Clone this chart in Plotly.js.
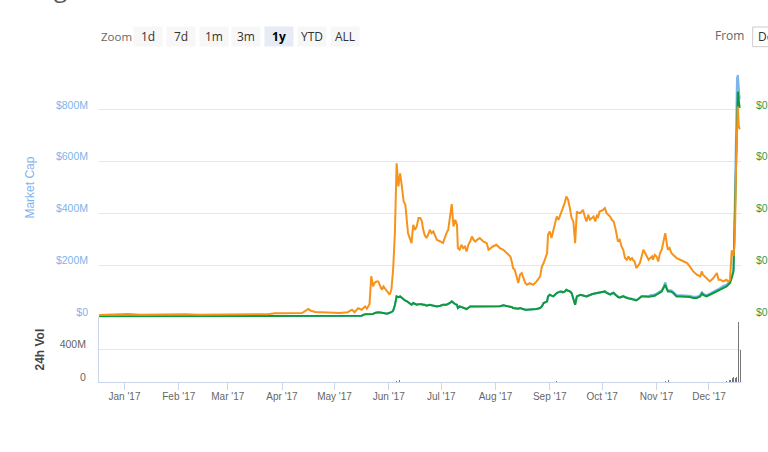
<!DOCTYPE html>
<html><head><meta charset="utf-8">
<script src="https://cdn.plot.ly/plotly-3.0.1.min.js"></script>
<style>html,body{margin:0;padding:0;background:#fff;overflow:hidden;}#chart{width:768px;height:452px;}</style>
</head><body><div id="chart"></div>
<script>
const dates = [
'2016-12-17 12:00','2016-12-23 12:00','2017-01-03','2017-01-10','2017-01-24','2017-01-30','2017-02-04 12:00','2017-02-13','2017-03-02 12:00','2017-03-13 12:00',
'2017-03-24','2017-03-28','2017-04-05 12:00','2017-04-12 12:00','2017-04-16','2017-04-17 12:00','2017-04-20','2017-04-28 12:00','2017-05-04','2017-05-08 12:00',
'2017-05-11','2017-05-12 12:00','2017-05-14 12:00','2017-05-16 12:00','2017-05-18 12:00','2017-05-19 12:00','2017-05-21','2017-05-22','2017-05-23','2017-05-24',
'2017-05-25','2017-05-26','2017-05-28','2017-05-29','2017-05-31','2017-06-01 12:00','2017-06-02 12:00','2017-06-03 12:00','2017-06-04 12:00','2017-06-05 12:00',
'2017-06-06 12:00','2017-06-07 12:00','2017-06-08 12:00','2017-06-09 12:00','2017-06-10 12:00','2017-06-11 12:00','2017-06-12','2017-06-13','2017-06-14','2017-06-15',
'2017-06-16','2017-06-17','2017-06-18','2017-06-19','2017-06-20','2017-06-20 12:00','2017-06-21 12:00','2017-06-22 12:00','2017-06-23 12:00','2017-06-24 12:00',
'2017-06-25 12:00','2017-06-26 12:00','2017-06-28 12:00','2017-06-30 12:00','2017-07-02','2017-07-04','2017-07-05','2017-07-06','2017-07-07','2017-07-08',
'2017-07-09','2017-07-10','2017-07-10 12:00','2017-07-11 12:00','2017-07-12 12:00','2017-07-13 12:00','2017-07-14 12:00','2017-07-15 12:00','2017-07-16 12:00','2017-07-17 12:00',
'2017-07-18 12:00','2017-07-19 12:00','2017-07-20 12:00','2017-07-21 12:00','2017-07-23','2017-07-25','2017-07-27','2017-07-28','2017-07-29','2017-07-30 12:00',
'2017-08-01 12:00','2017-08-03 12:00','2017-08-05 12:00','2017-08-07 12:00','2017-08-09 12:00','2017-08-10 12:00','2017-08-11','2017-08-12','2017-08-13','2017-08-14',
'2017-08-15','2017-08-16','2017-08-17','2017-08-18','2017-08-19','2017-08-20 12:00','2017-08-22 12:00','2017-08-24 12:00','2017-08-26 12:00','2017-08-27 12:00',
'2017-08-28 12:00','2017-08-30 12:00','2017-08-31','2017-09-01','2017-09-02','2017-09-03','2017-09-05','2017-09-06','2017-09-07','2017-09-08',
'2017-09-08 12:00','2017-09-09 12:00','2017-09-10 12:00','2017-09-11 12:00','2017-09-12 12:00','2017-09-13 12:00','2017-09-14 12:00','2017-09-15 12:00','2017-09-16 12:00','2017-09-17 12:00',
'2017-09-18 12:00','2017-09-20','2017-09-21','2017-09-22','2017-09-23','2017-09-24','2017-09-25','2017-09-26','2017-09-27','2017-09-28',
'2017-09-28 12:00','2017-09-29 12:00','2017-10-01 12:00','2017-10-02 12:00','2017-10-03 12:00','2017-10-04 12:00','2017-10-05 12:00','2017-10-06 12:00','2017-10-07 12:00','2017-10-08 12:00',
'2017-10-09 12:00','2017-10-10','2017-10-11','2017-10-12','2017-10-13','2017-10-14','2017-10-15','2017-10-16','2017-10-17','2017-10-18',
'2017-10-18 12:00','2017-10-19 12:00','2017-10-20 12:00','2017-10-21 12:00','2017-10-22 12:00','2017-10-23 12:00','2017-10-24 12:00','2017-10-25 12:00','2017-10-26 12:00','2017-10-27 12:00',
'2017-10-28 12:00','2017-10-29 12:00','2017-10-30','2017-10-31','2017-11-01','2017-11-02','2017-11-03','2017-11-04','2017-11-05','2017-11-06',
'2017-11-07','2017-11-07 12:00','2017-11-08 12:00','2017-11-09 12:00','2017-11-10 12:00','2017-11-12 12:00','2017-11-14 12:00','2017-11-16 12:00','2017-11-18 12:00','2017-11-20',
'2017-11-22','2017-11-24','2017-11-26','2017-11-27','2017-11-27 12:00','2017-11-29 12:00','2017-12-01 12:00','2017-12-03 12:00','2017-12-05 12:00','2017-12-06 12:00',
'2017-12-07 12:00','2017-12-09','2017-12-11','2017-12-12','2017-12-13','2017-12-14','2017-12-15','2017-12-15 12:00','2017-12-16','2017-12-16 12:00',
'2017-12-17','2017-12-17 12:00','2017-12-18','2017-12-18 12:00'
];
// Price in BTC (satoshi)
const priceBtcSat = [
2.3,2.5,3.2,2.5,3.0,3.2,3.0,2.5,2.5,2.5,
3.0,4.0,4.0,4.2,8.2,6.5,5.2,5.0,4.2,5.0,
7.5,5.0,9.0,7.5,10.8,8.5,13.0,41.0,31.0,34.5,
35.8,35.8,27.5,30.8,25.8,22.5,27.5,47.5,84.0,154.0,
131,144,131,116,112.5,87.5,84.2,79.2,74.2,92.5,
87.5,90.8,99.2,99.2,95.8,89.2,82.5,79.2,82.5,87.5,
84.2,85.8,77.5,75.8,74.2,84.2,87.5,100.8,113.2,90.8,
97.5,92.5,69.2,67.5,72.5,69.2,70.8,65.8,72.5,75.8,
80.8,77.5,75.8,77.5,79.2,75.8,74.2,67.5,69.2,70.8,
72.5,69.2,67.5,64.2,60.8,54.2,49.2,47.5,39.2,34.2,
42.5,44.2,39.2,34.2,32.5,34.2,32.5,35.8,40.8,50.8,
54.2,64.2,82.5,85.8,79.2,85.8,100.8,97.5,102.5,105.8,
109.2,114.2,120.8,117.5,109.2,99.2,95.8,74.2,105.8,104.2,
104.2,107.5,100.8,95.8,102.5,97.5,99.2,100.8,95.8,102.5,
99.2,105.8,107.5,109.2,104.2,102.5,100.8,97.5,95.8,89.2,
80.8,75.8,77.5,70.8,67.5,59.2,57.5,60.8,57.5,59.2,
57.5,55.8,49.2,52.5,54.2,60.8,67.5,64.2,60.8,57.5,
59.2,60.8,57.5,62.5,60.8,55.8,64.2,67.5,75.8,84.2,
72.5,67.5,69.2,64.2,62.5,59.2,57.5,55.8,54.2,50.8,
45.8,42.5,40.8,45.8,42.5,39.2,35.8,39.2,44.2,37.5,
37.5,35.8,37.5,35.8,37.5,67.0,61.0,71.0,97.5,157.5,
197.5,211,192.5,188
];
// Market cap (million USD)
const marketCapM = [
3.1,3.1,3.1,3.1,3.1,3.1,3.1,3.1,3.1,3.1,
3.1,3.9,4.6,5.0,5.4,5.4,5.4,5.4,5.4,5.8,
5.8,5.8,5.8,5.8,11.6,11.6,11.6,13.5,12.3,16.2,
17.3,19.3,17.3,16.2,13.5,17.3,19.3,25.1,46.2,80.2,
77.1,80.2,74.0,67.4,63.6,60.9,57.8,54.7,48.2,54.7,
52.0,48.2,50.1,50.9,50.1,48.2,48.2,44.3,46.2,48.2,
46.2,44.3,41.6,44.3,48.2,48.2,50.1,54.7,60.9,54.7,
50.1,48.2,35.5,41.6,38.5,35.5,33.9,31.6,36.6,41.6,
41.6,41.6,41.6,41.6,41.6,41.6,41.6,41.6,41.6,41.6,
41.6,42.4,46.2,44.3,41.6,38.5,35.5,34.7,32.8,32.8,
35.5,32.8,28.9,28.9,28.9,28.9,28.9,31.6,35.5,41.6,
54.7,60.9,80.2,86.7,82.9,80.2,93.3,96.4,99.4,98.3,
95.6,98.3,106.0,102.1,99.4,93.3,74.0,48.2,80.2,82.9,
86.7,84.0,81.7,80.2,82.9,86.7,88.6,90.6,91.7,93.3,
94.4,95.6,99.4,99.4,95.2,92.5,88.6,92.5,95.2,88.6,
82.1,79.7,77.1,79.0,82.1,79.0,75.9,74.4,73.2,71.3,
69.3,68.2,66.6,71.3,75.9,82.1,82.1,80.9,79.7,80.9,
84.8,84.8,84.8,87.5,91.3,95.2,97.9,104.0,117.1,134.9,
110.6,104.0,104.0,102.9,97.9,84.8,84.8,84.8,84.8,82.4,
78.6,78.6,84.8,97.9,91.3,84.8,91.3,97.9,104.0,108.7,
112.9,119.4,125.6,132.2,138.7,158.0,183.4,349.9,555.0,766.9,
921.1,934.6,867.2,840.2
];
// Price (USD)
const priceUsd = [
0.000031,0.000031,0.000031,0.000031,0.000031,0.000031,0.000031,0.000031,0.000031,0.000031,
0.000031,0.000039,0.000046,0.00005,0.000054,0.000054,0.000054,0.000054,0.000054,0.000058,
0.000058,0.000058,0.000058,0.000058,0.000116,0.000116,0.000116,0.000135,0.000123,0.000162,
0.000173,0.000193,0.000173,0.000162,0.000135,0.000173,0.000193,0.000251,0.000462,0.000802,
0.000771,0.000802,0.00074,0.000674,0.000636,0.000609,0.000578,0.000547,0.000482,0.000547,
0.00052,0.000482,0.000501,0.000509,0.000501,0.000482,0.000482,0.000443,0.000462,0.000482,
0.000462,0.000443,0.000416,0.000443,0.000482,0.000482,0.000501,0.000547,0.000609,0.000547,
0.000501,0.000482,0.000355,0.000416,0.000385,0.000355,0.000339,0.000316,0.000366,0.000416,
0.000416,0.000416,0.000416,0.000416,0.000416,0.000416,0.000416,0.000416,0.000416,0.000416,
0.000416,0.000424,0.000462,0.000443,0.000416,0.000385,0.000355,0.000347,0.000328,0.000328,
0.000355,0.000328,0.000289,0.000289,0.000289,0.000289,0.000289,0.000316,0.000355,0.000416,
0.000547,0.000609,0.000802,0.000867,0.000829,0.000802,0.000933,0.000964,0.000994,0.000983,
0.000956,0.000983,0.00106,0.001021,0.000994,0.000933,0.00074,0.000482,0.000802,0.000829,
0.000867,0.00084,0.000817,0.000802,0.000829,0.000867,0.000886,0.000906,0.000917,0.000933,
0.000944,0.000956,0.000994,0.000994,0.000933,0.000906,0.000867,0.000906,0.000933,0.000867,
0.000802,0.000778,0.000752,0.000771,0.000802,0.000771,0.00074,0.000725,0.000713,0.000694,
0.000674,0.000663,0.000647,0.000694,0.00074,0.000802,0.000802,0.00079,0.000778,0.00079,
0.000802,0.000802,0.000802,0.000829,0.000867,0.000906,0.000933,0.000994,0.001125,0.001253,
0.00106,0.000994,0.000994,0.000983,0.000933,0.000802,0.000802,0.000802,0.000802,0.000778,
0.00074,0.00074,0.000802,0.000933,0.000867,0.000802,0.000867,0.000933,0.000994,0.001041,
0.00106,0.001125,0.001187,0.001253,0.001318,0.001511,0.001765,0.003114,0.004779,0.006706,
0.008248,0.008702,0.008382,0.008074
];
const volDates = ['2017-01-15','2017-02-15','2017-03-15','2017-04-16','2017-05-22','2017-06-05 12:00','2017-06-07','2017-07-07','2017-08-15','2017-09-05','2017-10-05','2017-11-06','2017-11-08','2017-12-11','2017-12-13','2017-12-14 06:00','2017-12-15 06:00','2017-12-16 06:00','2017-12-16 18:00','2017-12-17 18:00','2017-12-18 18:00'];
const volumeM = [0.4,0.3,0.4,1.2,3,12,25,6,3,8,4,12,25,18,22,45,60,55,65,737,400];

const monthTicks = ['2017-01-01','2017-02-01','2017-03-01','2017-04-01','2017-05-01','2017-06-01','2017-07-01','2017-08-01','2017-09-01','2017-10-01','2017-11-01','2017-12-01'];
const monthLabels = ["Jan '17","Feb '17","Mar '17","Apr '17","May '17","Jun '17","Jul '17","Aug '17","Sep '17","Oct '17","Nov '17","Dec '17"];
const capTicks = [0,200,400,600,800,1000];
const capLabels = ['$0','$200M','$400M','$600M','$800M',''];
const priceTicks = [0,0.002,0.004,0.006,0.008];
const priceLabels = ['$0.000','$0.002','$0.004','$0.006','$0.008'];
const volTicks = [0,400,800];
const volLabels = ['0','400M',''];
const zoomButtons = ['1d','7d','1m','3m','1y','YTD','ALL'];
const selectedButton = '1y';

const F = 'Liberation Sans, Arial, sans-serif';
const UI = 'Open Sans, Liberation Sans, sans-serif';

const traces = [
  {type:'bar', x:volDates, y:volumeM, xaxis:'x', yaxis:'y4', width:0.6*86400000,
   marker:{color:'#777', line:{width:0}}, hoverinfo:'skip'},
  {type:'scatter', mode:'lines', x:dates, y:marketCapM, xaxis:'x', yaxis:'y',
   line:{color:'#7cb5ec', width:2}, hoverinfo:'skip'},
  {type:'scatter', mode:'lines', x:dates, y:priceUsd, xaxis:'x', yaxis:'y2',
   line:{color:'#0d9a3c', width:2}, hoverinfo:'skip'},
  {type:'scatter', mode:'lines', x:dates, y:priceBtcSat, xaxis:'x', yaxis:'y3',
   line:{color:'#f7931a', width:2}, hoverinfo:'skip'}
];

// pixel -> paper helpers for UI elements (plot area: l=99, w=642, t=58, h=324)
const px = p => (p - 99) / 642;
const py = p => (382 - p) / 324;
const btnCenters = [148, 181, 213.5, 246, 279.3, 312, 345];

const annotations = [
  {xref:'paper', yref:'paper', x:px(99), y:py(36.5), xanchor:'left', yanchor:'middle', showarrow:false,
   text:'Zoom', font:{family:UI, size:11.5, color:'#666'}},
  {xref:'paper', yref:'paper', x:px(746), y:py(35.5), xanchor:'right', yanchor:'middle', showarrow:false,
   text:'From', font:{family:UI, size:12, color:'#666'}},
  {xref:'paper', yref:'paper', x:px(756), y:py(36.5), xanchor:'left', yanchor:'middle', showarrow:false,
   text:'Dec 18, 2016', font:{family:UI, size:12, color:'#333'}},
  {xref:'paper', yref:'paper', x:px(52), y:py(6), xanchor:'left', yanchor:'bottom', showarrow:false,
   text:'g', font:{family:UI, size:24, color:'#555'}}
];
zoomButtons.forEach((b, i) => {
  const sel = b === selectedButton;
  annotations.push({xref:'paper', yref:'paper', x:px(btnCenters[i]), y:py(36.7), xanchor:'center', yanchor:'middle',
    showarrow:false, text: sel ? '<b>'+b+'</b>' : b, width:28, height:19, borderpad:0,
    bgcolor: sel ? '#e6ebf5' : '#f7f7f7', font:{family:UI, size:12, color: sel ? '#000' : '#333'}});
});

const shapes = [
  {type:'rect', xref:'paper', yref:'paper', x0:px(752.7), x1:px(800), y0:py(46.7), y1:py(27),
   line:{color:'#cccccc', width:1}, fillcolor:'#fff', layer:'below'}
];

const layout = {
  width:768, height:452, margin:{l:99, r:27, t:58, b:70},
  paper_bgcolor:'#fff', plot_bgcolor:'#fff', showlegend:false, bargap:0,
  font:{family:F, size:10, color:'#666'},
  xaxis:{type:'date', range:['2016-12-17 10:19','2017-12-19 06:58'], anchor:'y4', domain:[0,1],
    tickvals:monthTicks, ticktext:monthLabels, showgrid:false, showline:true, linecolor:'#ccd6eb', linewidth:1,
    ticks:'outside', ticklen:7, tickcolor:'#ccd6eb', tickfont:{family:F, size:10, color:'#666'}, zeroline:false,
    ticklabelstandoff:-2},
  yaxis:{domain:[0.2,1], range:[0,1000], anchor:'x', tickvals:capTicks, ticktext:capLabels,
    gridcolor:'#e6e6e6', gridwidth:1, zeroline:false, showline:false, ticks:'',
    tickfont:{family:F, size:10.5, color:'#7cb5ec'}, ticklabelshift:-5, ticklabelstandoff:10,
    title:{text:'Market Cap', font:{family:F, size:12, color:'#7cb5ec'}, standoff:18}},
  yaxis2:{overlaying:'y', side:'right', anchor:'x', range:[0,0.01], tickvals:priceTicks, ticktext:priceLabels,
    showgrid:false, zeroline:false, showline:false, ticks:'',
    tickfont:{family:F, size:10.5, color:'#2e9e4b'}, ticklabelshift:-5, ticklabelstandoff:14},
  yaxis3:{overlaying:'y', anchor:'x', range:[0,259.5], visible:false},
  yaxis4:{domain:[0,0.2], range:[0,800], anchor:'x', tickvals:volTicks, ticktext:volLabels,
    gridcolor:'#e6e6e6', zeroline:false, showline:true, linecolor:'#ccd6eb', ticks:'',
    tickfont:{family:F, size:10.5, color:'#666'}, ticklabelshift:-5, ticklabelstandoff:10,
    title:{text:'<b>24h Vol</b>', font:{family:F, size:12, color:'#444'}, standoff:12}},
  annotations:annotations, shapes:shapes
};

Plotly.newPlot('chart', traces, layout, {staticPlot:true, displayModeBar:false});
</script></body></html>
